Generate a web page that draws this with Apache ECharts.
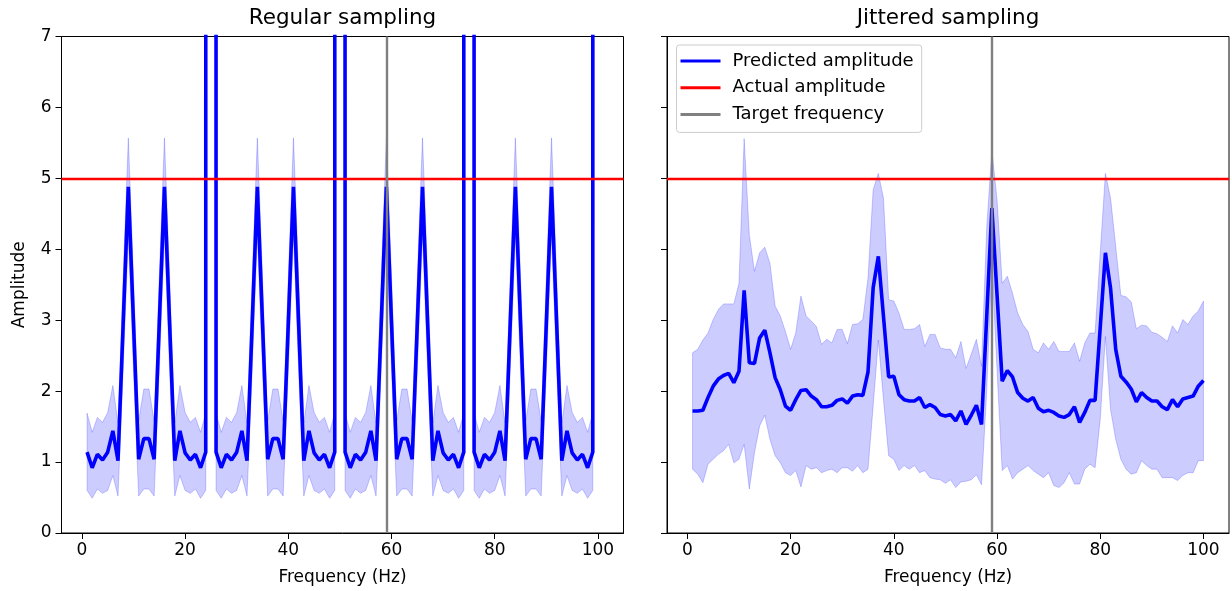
<!DOCTYPE html>
<html>
<head>
<meta charset="utf-8">
<script src="https://cdn.jsdelivr.net/npm/echarts@6/dist/echarts.min.js"></script>
<style>
html,body{margin:0;padding:0;background:#fff;}
#chart{width:1232px;height:591px;}
</style>
</head>
<body>
<div id="chart"></div>
<script>
// ---------- data ----------
const frequencies = [1,2,3,4,5,6,7,8,9,10,11,12,13,14,15,16,17,18,19,20,21,22,23,24,25,26,27,28,29,30,31,32,33,34,35,36,37,38,39,40,41,42,43,44,45,46,47,48,49,50,51,52,53,54,55,56,57,58,59,60,61,62,63,64,65,66,67,68,69,70,71,72,73,74,75,76,77,78,79,80,81,82,83,84,85,86,87,88,89,90,91,92,93,94,95,96,97,98,99,100];

// Regular sampling: predicted amplitude (values at 25, 50, 75, 100 blow up far beyond the plot)
const regularMean = [
  1.14,0.92,1.11,1.03,1.14,1.44,1.02,2.95,4.88,2.96,1.04,1.33,1.33,1.04,2.96,4.88,2.95,1.02,1.44,1.13,1.03,1.11,0.92,1.14,1000,
  1.14,0.92,1.11,1.03,1.14,1.44,1.02,2.95,4.88,2.96,1.04,1.33,1.33,1.04,2.96,4.88,2.95,1.02,1.44,1.13,1.03,1.11,0.92,1.14,1000,
  1.14,0.92,1.11,1.03,1.14,1.44,1.02,2.95,4.88,2.96,1.04,1.33,1.33,1.04,2.96,4.88,2.95,1.02,1.44,1.13,1.03,1.11,0.92,1.14,1000,
  1.14,0.92,1.11,1.03,1.14,1.44,1.02,2.95,4.88,2.96,1.04,1.33,1.33,1.04,2.96,4.88,2.95,1.02,1.44,1.13,1.03,1.11,0.92,1.14,1000
];
const regularUpper = [
  1.69,1.42,1.63,1.56,1.70,2.08,1.55,3.60,5.57,3.60,1.58,2.03,2.03,1.58,3.60,5.57,3.60,1.55,2.08,1.70,1.56,1.63,1.42,1.69,null,
  1.69,1.42,1.63,1.56,1.70,2.08,1.55,3.60,5.57,3.60,1.58,2.03,2.03,1.58,3.60,5.57,3.60,1.55,2.08,1.70,1.56,1.63,1.42,1.69,null,
  1.69,1.42,1.63,1.56,1.70,2.08,1.55,3.60,5.57,3.60,1.58,2.03,2.03,1.58,3.60,5.57,3.60,1.55,2.08,1.70,1.56,1.63,1.42,1.69,null,
  1.69,1.42,1.63,1.56,1.70,2.08,1.55,3.60,5.57,3.60,1.58,2.03,2.03,1.58,3.60,5.57,3.60,1.55,2.08,1.70,1.56,1.63,1.42,1.69,null
];
const regularLower = [
  0.60,0.49,0.62,0.56,0.60,0.81,0.52,2.30,4.20,2.30,0.52,0.62,0.62,0.52,2.30,4.20,2.30,0.52,0.81,0.60,0.56,0.62,0.49,0.60,null,
  0.60,0.49,0.62,0.56,0.60,0.81,0.52,2.30,4.20,2.30,0.52,0.62,0.62,0.52,2.30,4.20,2.30,0.52,0.81,0.60,0.56,0.62,0.49,0.60,null,
  0.60,0.49,0.62,0.56,0.60,0.81,0.52,2.30,4.20,2.30,0.52,0.62,0.62,0.52,2.30,4.20,2.30,0.52,0.81,0.60,0.56,0.62,0.49,0.60,null,
  0.60,0.49,0.62,0.56,0.60,0.81,0.52,2.30,4.20,2.30,0.52,0.62,0.62,0.52,2.30,4.20,2.30,0.52,0.81,0.60,0.56,0.62,0.49,0.60,null
];

// Jittered sampling
const jitteredMean = [
  1.72,1.72,1.73,1.91,2.07,2.17,2.22,2.25,2.12,2.28,3.42,2.40,2.39,2.75,2.86,2.54,2.19,2.02,1.79,1.73,
  1.88,2.01,2.02,1.93,1.88,1.78,1.78,1.80,1.87,1.89,1.83,1.93,1.95,1.94,2.27,3.46,3.90,3.05,2.20,2.21,
  1.95,1.88,1.86,1.86,1.91,1.77,1.81,1.77,1.67,1.65,1.67,1.58,1.72,1.53,1.66,1.80,1.53,3.05,4.58,3.36,
  2.14,2.29,2.20,1.98,1.90,1.86,1.91,1.76,1.71,1.73,1.70,1.65,1.63,1.67,1.78,1.56,1.70,1.87,1.87,2.90,
  3.95,3.45,2.59,2.21,2.13,2.03,1.85,1.98,1.91,1.86,1.86,1.78,1.74,1.88,1.78,1.89,1.91,1.93,2.07,2.15
];
const jitteredUpper = [
  2.54,2.59,2.72,2.82,3.01,3.15,3.23,3.23,3.23,3.52,5.56,4.20,3.69,3.95,4.03,3.80,3.20,3.06,2.84,2.59,
  2.82,3.34,3.06,2.99,2.91,2.66,2.73,2.68,2.87,2.87,2.67,2.94,2.95,3.01,3.60,4.84,5.07,4.72,3.29,3.27,
  3.10,2.87,2.87,2.88,2.94,2.63,2.80,2.80,2.61,2.59,2.59,2.47,2.70,2.32,2.52,2.73,2.35,4.30,5.40,4.70,
  3.52,3.62,3.38,3.10,2.94,2.84,2.59,2.54,2.68,2.59,2.70,2.56,2.56,2.56,2.68,2.42,2.68,2.82,2.82,3.95,
  5.07,4.72,4.04,3.35,3.33,3.26,2.88,2.93,2.92,2.83,2.81,2.76,2.70,2.92,2.82,3.01,2.94,3.06,3.13,3.27
];
const jitteredLower = [
  0.90,0.83,0.71,0.97,1.04,1.11,1.16,1.25,0.99,1.04,1.25,0.62,1.13,1.51,1.66,1.32,1.09,0.99,0.85,0.81,
  0.88,0.65,0.95,0.90,0.92,0.85,0.88,0.90,0.85,0.92,0.92,0.87,0.95,0.85,0.90,1.79,2.72,1.88,1.09,1.04,
  0.88,0.95,0.90,0.95,0.85,0.88,0.78,0.76,0.75,0.70,0.75,0.64,0.72,0.73,0.75,0.82,0.68,2.00,3.80,2.30,
  0.88,0.95,0.76,0.85,0.90,0.95,0.88,0.83,0.78,0.85,0.67,0.64,0.71,0.85,0.69,0.69,0.90,0.97,0.92,1.60,
  2.77,1.74,1.32,1.04,0.90,0.83,0.85,1.02,0.95,0.90,0.90,0.78,0.78,0.78,0.74,0.81,0.85,0.85,1.02,1.02
];

const actualAmplitude = 5;
const targetFrequency = 59;
const xTicks = [0, 20, 40, 60, 80, 100];
const panelTitles = ['Regular sampling', 'Jittered sampling'];
const legendNames = ['Predicted amplitude', 'Actual amplitude', 'Target frequency'];

// ---------- build ----------
const FONT = 'DejaVu Sans';
const pairs = (ys) => frequencies.map((f, i) => [f, ys[i]]);
const bandRows = (lo, up) => frequencies.map((f, i) => [f, lo[i], up[i]]);

function xAxisFor(idx) {
  return {
    type: 'value', gridIndex: idx, min: -3.95, max: 104.95,
    axisLine: { show: true, onZero: false, lineStyle: { color: '#000', width: 1 } },
    axisTick: { show: true, length: 6, customValues: xTicks, lineStyle: { color: '#000', width: 1 } },
    axisLabel: { customValues: xTicks, fontSize: 17, color: '#000', margin: 9, fontFamily: FONT },
    splitLine: { show: false },
    name: 'Frequency (Hz)', nameLocation: 'middle', nameGap: 36,
    nameTextStyle: { fontSize: 17, color: '#000', fontFamily: FONT }
  };
}
function yAxisFor(idx) {
  return {
    type: 'value', gridIndex: idx, min: 0, max: 7, interval: 1,
    axisLine: { show: true, onZero: false, lineStyle: { color: '#000', width: 1 } },
    axisTick: { show: true, length: 6, lineStyle: { color: '#000', width: 1 } },
    axisLabel: { show: idx === 0, fontSize: 17, color: '#000', margin: 10, fontFamily: FONT },
    splitLine: { show: false },
    name: idx === 0 ? 'Amplitude' : '', nameLocation: 'middle', nameGap: 33, nameRotate: 90,
    nameTextStyle: { fontSize: 17, color: '#000', fontFamily: FONT }
  };
}

// band drawn as filled polygons (one per run of non-null values) via the axes' coord()
function bandRenderer(rows) {
  return function (params, api) {
    if (params.dataIndex !== 0) return null;
    const children = [];
    let run = [];
    const flush = () => {
      if (run.length > 1) {
        const pts = [];
        run.forEach(r => pts.push(api.coord([r[0], r[2]])));
        for (let k = run.length - 1; k >= 0; k--) pts.push(api.coord([run[k][0], run[k][1]]));
        children.push({
          type: 'polygon', shape: { points: pts },
          style: { fill: 'rgba(0,0,255,0.2)', stroke: 'rgba(0,0,255,0.2)', lineWidth: 1 }
        });
      }
      run = [];
    };
    rows.forEach(r => { if (r[1] == null || r[2] == null) flush(); else run.push(r); });
    flush();
    return { type: 'group', children: children };
  };
}

function panelSeries(idx, mean, upper, lower) {
  const rows = bandRows(lower, upper);
  return [
    { name: 'band-' + idx, type: 'custom', xAxisIndex: idx, yAxisIndex: idx,
      data: rows.map(r => [r[0], r[1] == null ? 0 : r[1], r[2] == null ? 0 : r[2]]),
      encode: { x: 0, y: [1, 2] }, renderItem: bandRenderer(rows), silent: true, z: 1 },
    { name: 'Predicted amplitude', type: 'line', xAxisIndex: idx, yAxisIndex: idx,
      data: pairs(mean), symbol: 'none', showSymbol: false, clip: true,
      itemStyle: { color: '#0000ff' },
      lineStyle: { color: '#0000ff', width: 3.6 }, z: 3, silent: true },
    { name: 'Actual amplitude', type: 'line', xAxisIndex: idx, yAxisIndex: idx,
      data: [], itemStyle: { color: '#ff0000' }, lineStyle: { color: '#ff0000' }, z: 4,
      markLine: { silent: true, symbol: 'none', label: { show: false },
        lineStyle: { color: '#ff0000', width: 2.4, type: 'solid' },
        emphasis: { disabled: true },
        data: [{ yAxis: actualAmplitude }] } },
    { name: 'Target frequency', type: 'line', xAxisIndex: idx, yAxisIndex: idx,
      data: [], itemStyle: { color: '#808080' }, lineStyle: { color: '#808080' }, z: 5,
      markLine: { silent: true, symbol: 'none', label: { show: false },
        lineStyle: { color: '#808080', width: 2.4, type: 'solid' },
        emphasis: { disabled: true },
        data: [{ xAxis: targetFrequency }] } }
  ];
}

const chart = echarts.init(document.getElementById('chart'), null, { renderer: 'canvas' });
chart.setOption({
  backgroundColor: '#fff',
  animation: false,
  textStyle: { fontFamily: FONT },
  title: [
    { text: panelTitles[0], left: 342.5, top: 7, padding: 0, textAlign: 'center',
      textStyle: { fontSize: 21.5, fontWeight: 'normal', color: '#000', fontFamily: FONT } },
    { text: panelTitles[1], left: 948, top: 7, padding: 0, textAlign: 'center',
      textStyle: { fontSize: 21.5, fontWeight: 'normal', color: '#000', fontFamily: FONT } }
  ],
  grid: [
    { left: 61.5, top: 36.5, width: 562, height: 498.5, show: true, borderColor: '#000', borderWidth: 1, backgroundColor: 'transparent' },
    { left: 667, top: 36.5, width: 562, height: 498.5, show: true, borderColor: '#000', borderWidth: 1, backgroundColor: 'transparent' }
  ],
  xAxis: [xAxisFor(0), xAxisFor(1)],
  yAxis: [yAxisFor(0), yAxisFor(1)],
  legend: {
    data: legendNames,
    orient: 'vertical', left: 676.5, top: 45,
    icon: 'rect', itemWidth: 40, itemHeight: 3, itemGap: 6.7,
    padding: [6, 8, 8, 4],
    backgroundColor: 'rgba(255,255,255,0.8)', borderColor: '#cccccc', borderWidth: 1, borderRadius: 3,
    textStyle: { fontSize: 18, color: '#000', fontFamily: FONT, lineHeight: 20, padding: [0, 0, 0, 7] },
    selectedMode: false
  },
  series: [].concat(
    panelSeries(0, regularMean, regularUpper, regularLower),
    panelSeries(1, jitteredMean, jitteredUpper, jitteredLower)
  )
});
</script>
</body>
</html>
